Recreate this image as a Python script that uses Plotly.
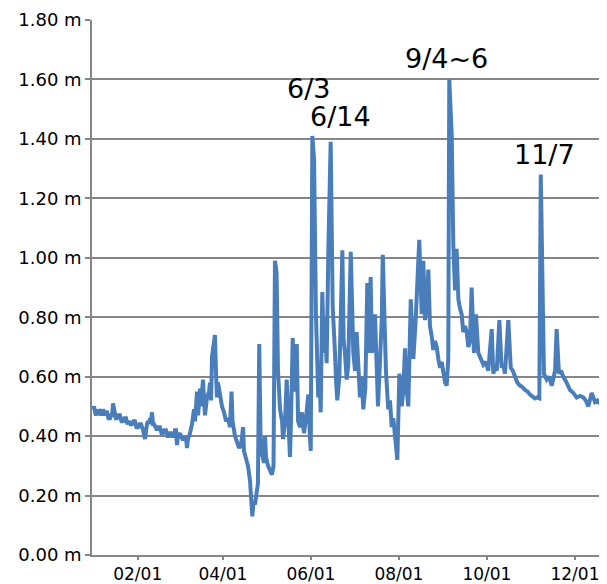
import pandas as pd
import plotly.graph_objects as go

YEAR_START = "2019-01-01"

# day offsets from Jan 1
day_offset = [
    0, 0.7, 1.4, 2.1, 2.8, 3.5, 4.2, 4.9, 5.5, 6.2, 6.9, 7.6, 8.3, 9.0, 9.7, 10.7, 11.8, 12.5,
    13.2, 13.9, 14.9, 15.8, 16.6, 17.6, 18.7, 19.7, 20.8, 21.8, 22.9, 23.9,
    24.9, 26.0, 27.0, 28.0, 29.1, 30.1, 31.2, 32.2, 33.3, 34.0, 34.7, 36.0, 36.7, 37.4, 38.1,
    38.8, 39.5, 40.2, 40.9, 41.6, 42.3, 43.0, 43.7, 44.4,
    45.4, 46.4, 47.5, 48.5, 49.5, 50.6, 51.6, 52.7, 53.4, 54.1, 55.1, 56.1, 56.8, 57.5, 58.2,
    58.9, 60.0, 61.0, 62.0, 63.1, 64.4, 65.1, 65.8,
    67.2, 68.6, 70.0, 70.7, 72.1, 72.8, 74.2, 74.8, 76.2, 76.9, 77.6, 79.0, 80.4, 81.1,
    81.8, 82.5, 83.5, 84.5, 85.2, 85.9, 86.6, 88.0, 89.4, 90.8, 92.2, 93.6, 94.9, 96.0,
    96.7, 98.4, 99.8, 101.2, 102.6, 104.0, 104.6, 106.0, 107.4, 108.8, 109.5, 110.4,
    111.2, 112.3, 113.4, 114.3, 115.2, 116.1, 117.1, 118.5, 119.2, 119.9, 121.3, 122.7,
    124.0, 125.1, 126.1, 127.2, 128.2, 129.6, 131.0, 131.7, 133.1, 134.2, 135.1, 136.5,
    137.2, 138.4, 139.3, 141.2, 142.1, 143.5, 144.8, 146.2, 147.6, 149.2, 150.3, 150.9, 152.0,
    153.2, 154.5, 155.3, 156.1, 157.0, 157.8, 158.9, 160.0, 160.8, 161.9, 163.1, 164.7, 166.1,
    167.0, 167.7, 168.5, 169.3, 170.7, 172.8, 173.7, 174.6, 175.8, 176.9, 178.6, 179.5, 180.4,
    181.6, 182.7, 183.8, 185.0, 186.1, 187.3, 188.7, 190.1, 191.2, 192.4, 193.3, 194.2,
    195.4, 196.6, 197.5, 198.4, 200.1, 200.8, 201.7, 203.0, 204.6, 205.8, 207.0, 208.1, 209.3,
    210.9, 212.3, 213.9, 215.0, 216.2, 217.3, 218.5, 220.2, 221.1, 222.0, 223.6, 226.1, 227.8,
    228.9, 230.1, 231.2, 232.4, 233.5, 234.6, 235.8, 237.0, 238.2, 239.3, 240.5, 241.6, 242.8,
    244.0, 245.1, 246.2, 246.9, 248.6, 249.7, 250.9, 252.0, 253.2, 254.3,
    255.5, 256.6, 257.8, 259.0, 260.1, 261.2, 262.4, 264.0, 265.4, 267.0, 268.7, 270.5, 272.2,
    273.9, 276.3, 277.4, 278.6, 279.8, 281.6, 283.2, 284.3, 285.5, 287.8, 289.5, 290.9, 292.4,
    294.1, 295.9, 297.6, 299.4, 301.1, 302.8, 304.5, 306.3, 307.8, 309.3,
    310.3, 311.6, 312.5, 314.4, 316.1, 317.9, 320.2, 321.3, 322.9, 324.4, 325.9, 328.2, 330.6,
    332.9, 335.2, 337.5, 339.8, 341.5, 343.3, 345.6, 347.9, 349.6, 351.4, 353.7,
]

water_level_m = [
    0.49, 0.50, 0.48, 0.47, 0.49, 0.47, 0.49, 0.48, 0.48, 0.47, 0.49, 0.47, 0.47, 0.48, 0.48, 0.46, 0.46, 0.47,
    0.47, 0.51, 0.47, 0.46, 0.46, 0.47, 0.47, 0.45, 0.45, 0.46, 0.46, 0.44,
    0.45, 0.44, 0.44, 0.45, 0.45, 0.43, 0.43, 0.44, 0.44, 0.42, 0.42, 0.39, 0.43, 0.44, 0.45,
    0.44, 0.46, 0.45, 0.48, 0.44, 0.44, 0.43, 0.42, 0.42,
    0.43, 0.43, 0.41, 0.41, 0.42, 0.42, 0.40, 0.40, 0.41, 0.41, 0.40, 0.40, 0.42, 0.42, 0.37,
    0.40, 0.41, 0.40, 0.39, 0.39, 0.40, 0.36, 0.39,
    0.41, 0.44, 0.49, 0.45, 0.55, 0.47, 0.56, 0.50, 0.59, 0.50, 0.47, 0.53, 0.55, 0.58,
    0.52, 0.67, 0.72, 0.74, 0.62, 0.53, 0.58, 0.53, 0.50, 0.48, 0.45, 0.46, 0.43, 0.55,
    0.45, 0.40, 0.38, 0.36, 0.37, 0.43, 0.35, 0.32, 0.30, 0.25, 0.20, 0.13,
    0.18, 0.17, 0.21, 0.24, 0.71, 0.40, 0.34, 0.31, 0.40, 0.33, 0.30, 0.28,
    0.27, 0.30, 0.99, 0.95, 0.62, 0.49, 0.45, 0.39, 0.45, 0.59, 0.45, 0.33,
    0.45, 0.73, 0.55, 0.71, 0.45, 0.43, 0.48, 0.41, 0.46, 0.54, 0.40, 0.35, 1.41,
    1.33, 0.81, 0.66, 0.53, 0.60, 0.48, 0.885, 0.68, 0.80, 0.645, 1.025, 1.39, 0.835,
    0.70, 0.68, 0.58, 0.52, 0.60, 1.025, 0.72, 0.68, 0.59, 0.64, 1.02, 0.79, 0.68,
    0.62, 0.75, 0.645, 0.53, 0.60, 0.49, 0.56, 0.915, 0.68, 0.935, 0.68, 0.72,
    0.81, 0.66, 0.50, 0.60, 0.79, 1.01, 0.81, 0.62, 0.49, 0.52, 0.43, 0.46, 0.40,
    0.32, 0.61, 0.50, 0.55, 0.695, 0.56, 0.50, 0.86, 0.73, 0.66, 0.79, 1.06, 0.81,
    0.99, 0.79, 0.85, 0.96, 0.77, 0.74, 0.69, 0.72, 0.70, 0.66, 0.63, 0.65, 0.61,
    0.58, 0.57, 0.66, 1.60, 1.41, 1.04, 0.89, 1.03, 0.86, 0.83,
    0.81, 0.75, 0.77, 0.75, 0.70, 0.72, 0.90, 0.68, 0.81, 0.68, 0.66, 0.64, 0.65,
    0.62, 0.76, 0.61, 0.63, 0.62, 0.79, 0.63, 0.64, 0.61, 0.79, 0.63, 0.62, 0.60,
    0.58, 0.57, 0.565, 0.555, 0.55, 0.54, 0.535, 0.527, 0.53, 0.527,
    1.28, 0.77, 0.61, 0.59, 0.60, 0.57, 0.62, 0.76, 0.61, 0.62, 0.60, 0.58, 0.555,
    0.545, 0.53, 0.535, 0.53, 0.52, 0.50, 0.545, 0.515, 0.52, 0.51, 0.505,
]

# annotation labels
label_text = ["6/3", "6/14", "9/4~6", "11/7"]
label_day_offset = [149.2, 171.7, 245.1, 313.2]
label_level = [1.57, 1.474, 1.669, 1.348]

y_ticks = [0.0, 0.2, 0.4, 0.6, 0.8, 1.0, 1.2, 1.4, 1.6, 1.8]

base = pd.Timestamp(YEAR_START)
x_dates = base + pd.to_timedelta(day_offset, unit="D")
label_dates = base + pd.to_timedelta(label_day_offset, unit="D")

fig = go.Figure()
fig.add_trace(go.Scatter(
    x=x_dates, y=water_level_m, mode="lines",
    line=dict(color="#4a7ebb", width=4),
    showlegend=False, hoverinfo="skip",
))

for t, d, v in zip(label_text, label_dates, label_level):
    fig.add_annotation(x=d, y=v, text=t, showarrow=False,
                       font=dict(family="DejaVu Sans", size=27, color="#000000"))

font_family = "DejaVu Sans"
fig.update_layout(
    width=599, height=576,
    margin=dict(l=84, r=0, t=12, b=29),
    paper_bgcolor="white", plot_bgcolor="white",
    font=dict(family=font_family, size=18, color="#000000"),
    xaxis=dict(
        range=[base + pd.Timedelta(days=-0.7), base + pd.Timedelta(days=356.2)],
        tick0="2019-02-01", dtick="M2", tickformat="%m/%d",
        tickfont=dict(size=17),
        showgrid=False, showline=True, linecolor="#868686", linewidth=1.5,
        ticks="outside", ticklen=3, tickcolor="#868686", tickwidth=1.5,
        zeroline=False, automargin=False,
    ),
    yaxis=dict(
        range=[0, 1.8], tickvals=y_ticks,
        ticktext=[f"{v:.2f} m" for v in y_ticks],
        showgrid=True, gridcolor="#868686", gridwidth=1.5,
        showline=True, linecolor="#868686", linewidth=1.5,
        ticks="outside", ticklen=5, tickcolor="#868686", tickwidth=1.5,
        zeroline=False, automargin=False,
    ),
)

fig.write_html("out.html")
